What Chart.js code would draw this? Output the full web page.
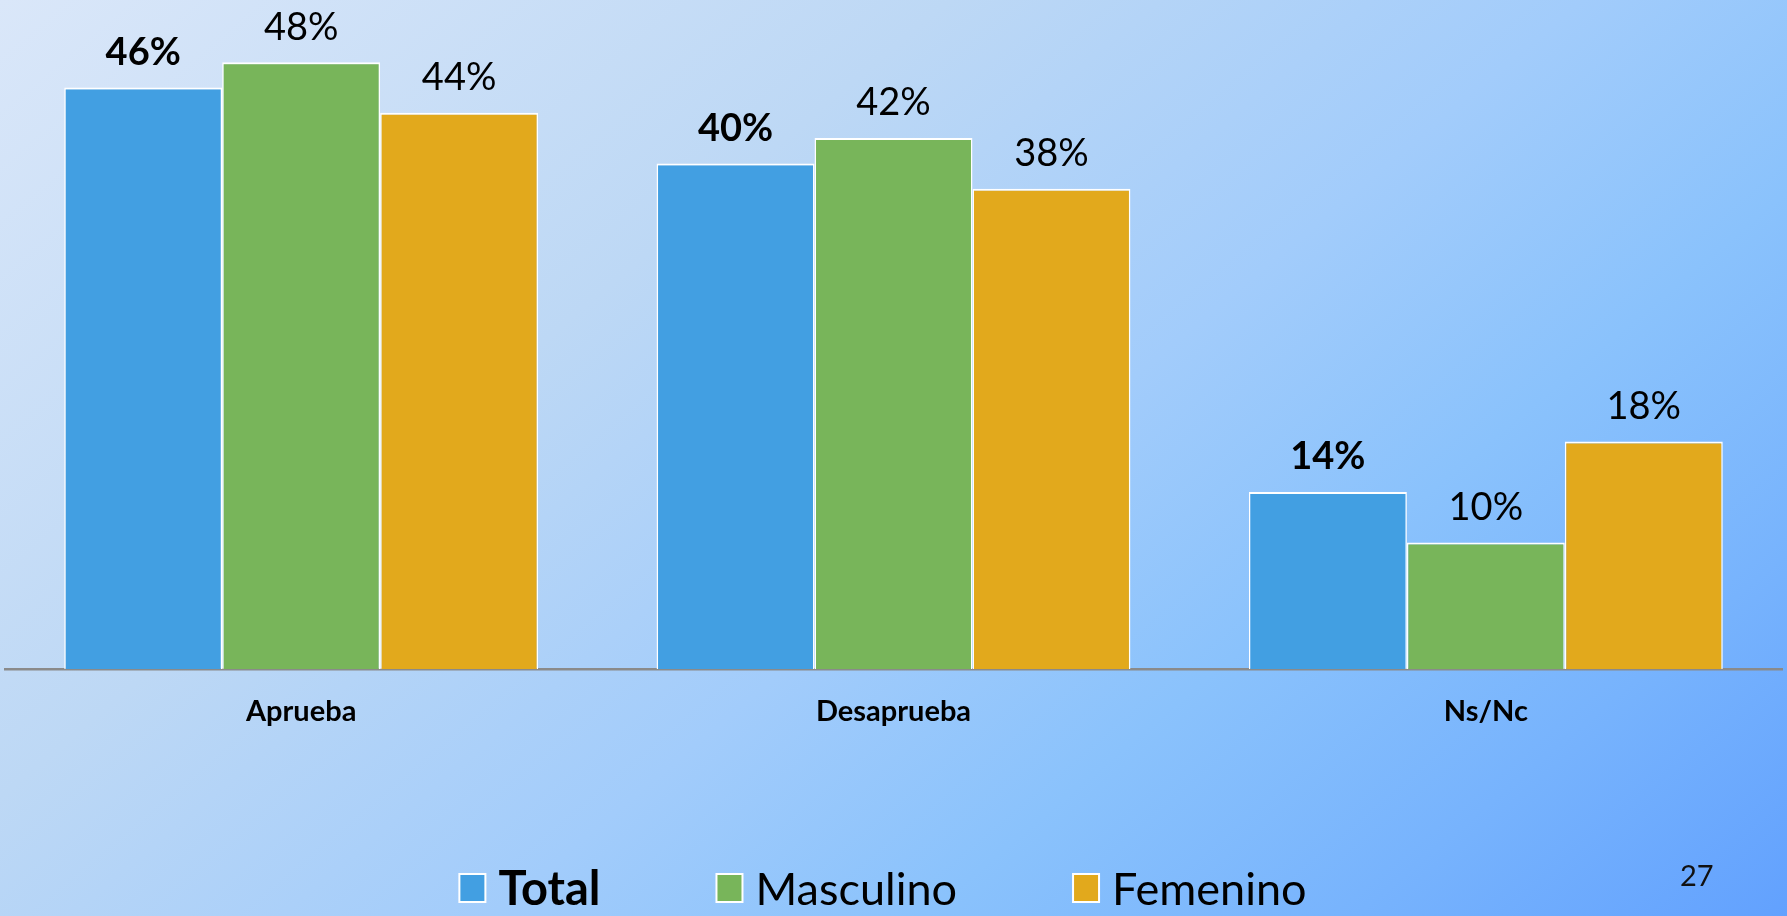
<!DOCTYPE html>
<html>
<head>
<meta charset="utf-8">
<script src="https://cdn.jsdelivr.net/npm/chart.js@4.4.1/dist/chart.umd.min.js"></script>
<style>
  html, body { margin: 0; padding: 0; }
  body {
    width: 1787px; height: 916px; overflow: hidden; position: relative;
    background: linear-gradient(140deg, #dae7f9 0%, #bdd8f5 33%, #a2ccfb 55%, #8ac2fc 70%, #77b3fd 85%, #62a1fe 100%);
  }
  #wrap { position: absolute; left: 0; top: 0; width: 1787px; height: 916px; }
  #page { position: absolute; left: 1680px; top: 857px; font-family: Lato, sans-serif; font-size: 29px; color: #111; }
</style>
</head>
<body>
<div id="wrap"><canvas id="c" width="1787" height="916"></canvas></div>
<div id="page">27</div>
<script>
const categories = ["Aprueba", "Desaprueba", "Ns/Nc"];
const seriesNames = ["Total", "Masculino", "Femenino"];
const totalValues = [46, 40, 14];
const masculinoValues = [48, 42, 10];
const femeninoValues = [44, 38, 18];
const seriesColors = ["#429fe2", "#78b55a", "#e2a91c"];

const labelPlugin = {
  id: 'valueLabels',
  afterDatasetsDraw(chart) {
    const ctx = chart.ctx;
    ctx.save();
    ctx.textAlign = 'center';
    ctx.textBaseline = 'middle';
    ctx.fillStyle = '#000';
    chart.data.datasets.forEach((ds, i) => {
      const meta = chart.getDatasetMeta(i);
      ctx.font = (i === 0 ? 'bold ' : '') + '38px Lato';
      meta.data.forEach((el, j) => {
        ctx.fillText(ds.data[j] + '%', el.x, el.y - 35);
      });
    });
    ctx.restore();
  }
};

const legendPlugin = {
  id: 'customLegend',
  afterDraw(chart) {
    const ctx = chart.ctx;
    ctx.save();
    const boxW = 26, boxH = 28, gap = 13, itemGap = 116, cy = 888;
    const items = chart.data.datasets.map((ds, i) => {
      const font = (i === 0 ? 'bold 47px Lato' : '45px Lato');
      ctx.font = font;
      return { text: ds.label, font, color: ds.backgroundColor, w: ctx.measureText(ds.label).width };
    });
    let total = 0;
    items.forEach((it, i) => { total += boxW + gap + it.w + (i < items.length - 1 ? itemGap : 0); });
    let x = 883 - total / 2;
    items.forEach(it => {
      ctx.fillStyle = it.color;
      ctx.fillRect(x, cy - boxH / 2, boxW, boxH);
      ctx.strokeStyle = '#ffffff';
      ctx.lineWidth = 2;
      ctx.strokeRect(x, cy - boxH / 2, boxW, boxH);
      ctx.font = it.font;
      ctx.fillStyle = '#000';
      ctx.textAlign = 'left';
      ctx.textBaseline = 'middle';
      ctx.fillText(it.text, x + boxW + gap, cy + 2);
      x += boxW + gap + it.w + itemGap;
    });
    ctx.restore();
  }
};

const valueSets = [totalValues, masculinoValues, femeninoValues];
new Chart(document.getElementById('c'), {
  type: 'bar',
  data: {
    labels: categories,
    datasets: seriesNames.map((name, i) => ({
      label: name,
      data: valueSets[i],
      backgroundColor: seriesColors[i],
      borderColor: '#ffffff',
      borderWidth: { top: 2, left: 1.5, right: 1.5, bottom: 0 },
      borderSkipped: false,
      categoryPercentage: 0.8,
      barPercentage: 1.0
    }))
  },
  options: {
    responsive: false,
    animation: false,
    layout: { padding: { top: 37, bottom: 187, left: 5, right: 5 } },
    plugins: { legend: { display: false }, tooltip: { enabled: false } },
    scales: {
      y: { display: false, min: 0, max: 50 },
      x: {
        afterFit: (s) => { s.height = 60; },
        grid: { display: false, drawTicks: false },
        border: { display: true, color: '#8a8a8a', width: 2.5 },
        ticks: { color: '#000', padding: 25, font: { family: 'Lato', weight: 'bold', size: 29 } }
      }
    }
  },
  plugins: [labelPlugin, legendPlugin]
});
</script>
</body>
</html>
